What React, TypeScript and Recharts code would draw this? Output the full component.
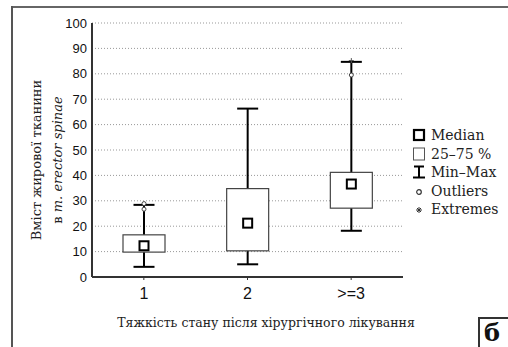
import React from "react";
import { ComposedChart, Bar, XAxis, YAxis, CartesianGrid } from "recharts";

const categories = ["1", "2", ">=3"];
const mins = [4, 5, 18.2];
const q1s = [9.8, 10.3, 27.1];
const medians = [12.3, 21.2, 36.6];
const q3s = [16.6, 34.8, 41.2];
const maxs = [28.4, 66.3, 84.7];
const outliers = [[28.9, 26.7], [], [79.5]];
const extremes = [[], [], [85.2]];
const yTicks = [0, 10, 20, 30, 40, 50, 60, 70, 80, 90, 100];

const data = categories.map((cat, i) => ({
  cat,
  min: mins[i],
  q1: q1s[i],
  median: medians[i],
  q3: q3s[i],
  max: maxs[i],
  outliers: outliers[i],
  extremes: extremes[i],
}));

const serif = "'DejaVu Serif', serif";
const sans = "Liberation Sans, Arial, sans-serif";

function BoxShape(props: any) {
  const { x, y, width, height, payload } = props;
  const top = Math.min(y, y + height);
  const bottom = Math.max(y, y + height);
  const px = (v: number) =>
    bottom - ((v - payload.min) / (payload.max - payload.min)) * (bottom - top);
  const cx = x + width / 2;
  const cap = 21;
  return (
    <g>
      <line x1={cx} x2={cx} y1={top} y2={bottom} stroke="#000" strokeWidth={2} />
      <line x1={cx - cap / 2} x2={cx + cap / 2} y1={top} y2={top} stroke="#000" strokeWidth={2} />
      <line x1={cx - cap / 2} x2={cx + cap / 2} y1={bottom} y2={bottom} stroke="#000" strokeWidth={2} />
      <rect
        x={x}
        y={px(payload.q3)}
        width={width}
        height={px(payload.q1) - px(payload.q3)}
        fill="#fff"
        stroke="#444"
        strokeWidth={1.2}
      />
      <rect
        x={cx - 4.5}
        y={px(payload.median) - 4.5}
        width={9}
        height={9}
        fill="#fff"
        stroke="#000"
        strokeWidth={2}
      />
      {payload.outliers.map((v: number, k: number) => (
        <circle key={"o" + k} cx={cx} cy={px(v)} r={2} fill="#fff" stroke="#444" strokeWidth={1} />
      ))}
      {payload.extremes.map((v: number, k: number) => (
        <g key={"e" + k} stroke="#555" strokeWidth={1}>
          <line x1={cx - 2.5} x2={cx + 2.5} y1={px(v)} y2={px(v)} />
          <line x1={cx} x2={cx} y1={px(v) - 2.5} y2={px(v) + 2.5} />
        </g>
      ))}
    </g>
  );
}

function LegendIcon({ kind }: { kind: string }) {
  return (
    <svg width={14} height={14} style={{ display: "block" }}>
      {kind === "median" && (
        <rect x={2} y={2} width={10} height={10} fill="#fff" stroke="#000" strokeWidth={2.2} />
      )}
      {kind === "box" && (
        <rect x={1.5} y={1} width={11} height={12} fill="#fff" stroke="#555" strokeWidth={1} />
      )}
      {kind === "minmax" && (
        <g stroke="#000" strokeWidth={2}>
          <line x1={2} x2={12} y1={1.5} y2={1.5} />
          <line x1={7} x2={7} y1={1.5} y2={12.5} />
          <line x1={1} x2={13} y1={12.5} y2={12.5} />
        </g>
      )}
      {kind === "outlier" && (
        <circle cx={7} cy={8} r={2.3} fill="#fff" stroke="#333" strokeWidth={1.2} />
      )}
      {kind === "extreme" && (
        <g stroke="#333" strokeWidth={1}>
          <line x1={4} x2={10} y1={8} y2={8} />
          <line x1={7} x2={7} y1={5} y2={11} />
          <line x1={5} x2={9} y1={6} y2={10} />
          <line x1={9} x2={5} y1={6} y2={10} />
        </g>
      )}
    </svg>
  );
}

const legendItems = [
  { kind: "median", label: "Median" },
  { kind: "box", label: "25–75 %" },
  { kind: "minmax", label: "Min–Max" },
  { kind: "outlier", label: "Outliers" },
  { kind: "extreme", label: "Extremes" },
];

export default function App() {
  return (
    <div style={{ position: "absolute", left: 0, top: 0, width: 508, height: 347, background: "#fff", overflow: "hidden" }}>
      <ComposedChart
        width={508}
        height={347}
        data={data}
        margin={{ top: 23, right: 105, bottom: 0, left: 0 }}
      >
        <CartesianGrid horizontal vertical={false} stroke="#999" strokeDasharray="1 2" />
        <XAxis
          dataKey="cat"
          height={70}
          tickSize={3}
          tickMargin={8}
          tick={{ fill: "#111", fontSize: 16, fontFamily: sans }}
          axisLine={{ stroke: "#333", strokeWidth: 2 }}
          tickLine={{ stroke: "#333" }}
        />
        <XAxis
          xAxisId="top"
          dataKey="cat"
          orientation="top"
          height={0}
          mirror
          tickSize={3}
          tick={() => <g />}
          axisLine={{ stroke: "#555", strokeWidth: 2 }}
          tickLine={{ stroke: "#333" }}
        />
        <YAxis
          domain={[0, 100]}
          ticks={yTicks}
          width={92}
          tickSize={0}
          tickMargin={5}
          interval={0}
          tick={{ fill: "#111", fontSize: 13, fontFamily: sans }}
          axisLine={{ stroke: "#333", strokeWidth: 2 }}
        />
        <YAxis
          yAxisId="right"
          orientation="right"
          domain={[0, 100]}
          ticks={yTicks}
          width={0}
          mirror
          tickSize={3}
          tick={() => <g />}
          axisLine={{ stroke: "#000", strokeWidth: 2 }}
          tickLine={{ stroke: "#333" }}
        />
        <Bar
          dataKey={(d: any) => [d.min, d.max]}
          barSize={42}
          shape={<BoxShape />}
          isAnimationActive={false}
        />
      </ComposedChart>

      <div style={{ position: "absolute", left: 12, top: 6, width: 500, height: 2, background: "#666" }} />
      <div style={{ position: "absolute", left: 11, top: 6, width: 2, height: 345, background: "#555" }} />

      <div
        style={{
          position: "absolute",
          left: 116,
          top: 315,
          width: 300,
          textAlign: "center",
          whiteSpace: "nowrap",
          fontFamily: serif,
          fontSize: 12.5,
          color: "#222",
        }}
      >
        Тяжкість стану після хірургічного лікування
      </div>

      <div
        style={{
          position: "absolute",
          left: 47,
          top: 160,
          transform: "translate(-50%, -50%) rotate(-90deg)",
          fontFamily: serif,
          fontSize: 13,
          lineHeight: "21px",
          color: "#222",
          textAlign: "center",
          whiteSpace: "nowrap",
        }}
      >
        <div>Вміст жирової тканини</div>
        <div>
          в <i>m. erector spinae</i>
        </div>
      </div>

      <div style={{ position: "absolute", left: 412, top: 126, fontFamily: serif, fontSize: 14, color: "#222" }}>
        {legendItems.map((it) => (
          <div key={it.kind} style={{ display: "flex", alignItems: "center", height: 18.5 }}>
            <LegendIcon kind={it.kind} />
            <span style={{ marginLeft: 5 }}>{it.label}</span>
          </div>
        ))}
      </div>

      <div
        style={{
          position: "absolute",
          left: 478,
          top: 317,
          width: 40,
          height: 40,
          border: "2px solid #333",
          fontFamily: serif,
          fontWeight: "bold",
          fontSize: 24,
          lineHeight: "28px",
          paddingLeft: 4,
          boxSizing: "border-box",
          color: "#111",
        }}
      >
        б
      </div>
    </div>
  );
}
